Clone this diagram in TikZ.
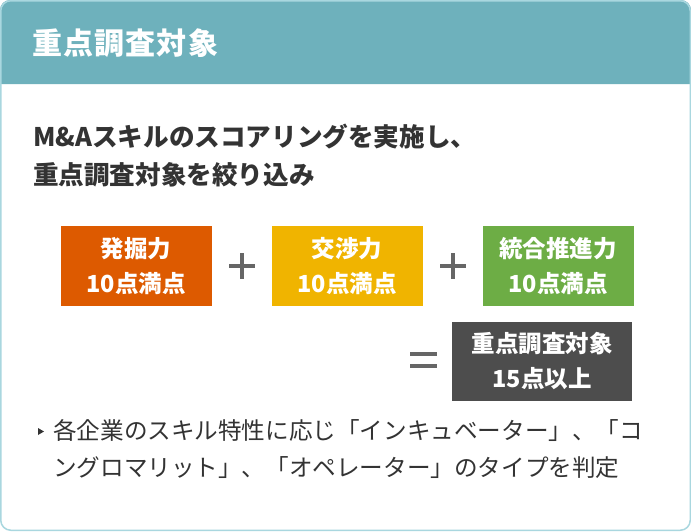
\documentclass[tikz,border=0pt]{standalone}
\usepackage{fontspec}
\setmainfont{Noto Sans CJK JP}
\newfontfamily\titlefont{Noto Sans CJK JP}[LetterSpace=4]
\usepackage{tikz}

\definecolor{headteal}{HTML}{6EB1BC}
\definecolor{frameblue}{HTML}{A9D7DF}
\definecolor{textgray}{HTML}{333333}
\definecolor{opgray}{HTML}{666666}
\definecolor{hakkutsu}{HTML}{DD5A00}
\definecolor{koushou}{HTML}{F0B400}
\definecolor{tougou}{HTML}{6DAD45}
\definecolor{kekka}{HTML}{4D4D4D}

\begin{document}
\begin{tikzpicture}[x=1pt, y=-1pt, every node/.style={inner sep=0pt},
    scorebox/.style={minimum width=151pt, minimum height=80pt, text=white, align=center,
      font=\fontsize{23.5}{35}\selectfont\bfseries},
    opsign/.style={draw=opgray, line width=3.3pt}]
  \useasboundingbox (0,0) rectangle (691,531);

  % Frame and header
  \fill[white, rounded corners=10pt] (0.75,0.75) rectangle (690.25,530.25);
  \fill[headteal] (0,84) {[rounded corners=10pt] -- (0,0) -- (691,0)} -- (691,84) -- cycle;
  \draw[frameblue, line width=1.5pt, rounded corners=10pt] (0.75,0.75) rectangle (690.25,530.25);
  \node[anchor=west, text=white, font=\titlefont\fontsize{30}{30}\selectfont\bfseries] (title) at (32,43) {重点調査対象};

  % Lead text
  \node[anchor=north west, text=textgray, align=left, font=\fontsize{25.6}{38}\selectfont\bfseries] (lead) at (33,124)
    {M\&Aスキルのスコアリングを実施し、\\重点調査対象を絞り込み};

  % Scores
  \node[scorebox, fill=hakkutsu] (dig) at (136,266) {発掘力\\10点満点};
  \node[scorebox, fill=koushou] (nego) at (347,266) {交渉力\\10点満点};
  \node[scorebox, fill=tougou] (pmi) at (558,266) {統合推進力\\10点満点};
  \node[scorebox, fill=kekka, minimum width=180pt, minimum height=79pt] (target) at (542,361) {重点調査対象\\15点以上};

  % Plus and equals
  \draw[opsign] (229,266) -- (255,266) (242,253) -- (242,279);
  \draw[opsign] (440,266) -- (466,266) (453,253) -- (453,279);
  \draw[opsign] (410,354) -- (437,354) (410,366) -- (437,366);

  % Note
  \fill[textgray] (38,428) -- (44,431.5) -- (38,435) -- cycle;
  \node[anchor=north west, text=textgray, align=left, font=\fontsize{23.6}{37}\selectfont] (note) at (53,419)
    {各企業のスキル特性に応じ「インキュベーター」、「コ\\ングロマリット」、「オペレーター」のタイプを判定};
\end{tikzpicture}
\end{document}
